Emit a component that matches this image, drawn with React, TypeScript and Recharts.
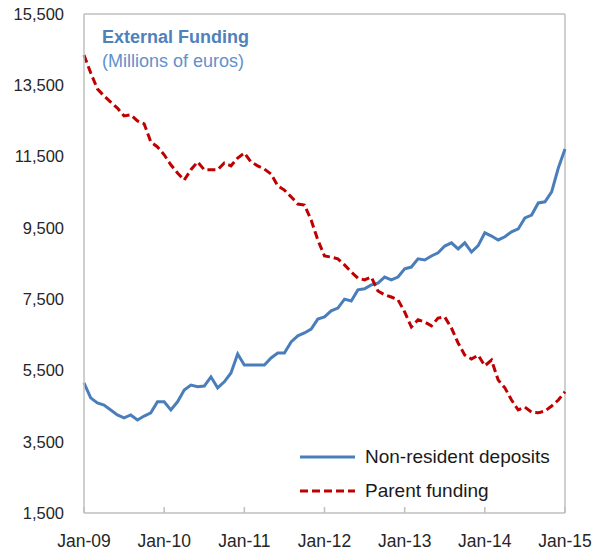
import React from 'react';
import { LineChart, Line, XAxis, YAxis, ReferenceLine, Legend } from 'recharts';

// monthly, Jan-09 .. Jan-15 (73 points), millions of euros
const yearLabels = ['Jan-09', 'Jan-10', 'Jan-11', 'Jan-12', 'Jan-13', 'Jan-14', 'Jan-15'];
const yTicks = [1500, 3500, 5500, 7500, 9500, 11500, 13500, 15500];

const nonResidentDeposits = [
  5150, 4730, 4590, 4530, 4390, 4250, 4170, 4250, 4110, 4220, 4310, 4620,
  4620, 4390, 4620, 4950, 5090, 5040, 5060, 5320, 5010, 5180, 5430, 5960,
  5650, 5650, 5650, 5650, 5850, 5990, 5990, 6300, 6470, 6550, 6660, 6940,
  7000, 7170, 7250, 7500, 7450, 7760, 7790, 7900, 7950, 8120, 8040, 8120,
  8350, 8400, 8630, 8600, 8710, 8800, 8990, 9080, 8910, 9080, 8820, 9000,
  9360, 9270, 9160, 9250, 9390, 9470, 9780, 9860, 10200, 10230, 10510, 11180,
  11710,
];

const parentFunding = [
  14350, 13850, 13400, 13200, 13030, 12860, 12640, 12670, 12500, 12420, 11910, 11770,
  11550, 11270, 11040, 10840, 11130, 11350, 11130, 11130, 11130, 11320, 11240, 11460,
  11600, 11350, 11240, 11150, 11010, 10680, 10560, 10370, 10170, 10140, 9720, 9160,
  8710, 8680, 8630, 8460, 8260, 8090, 8040, 8120, 7730, 7620, 7560, 7480,
  7140, 6720, 6920, 6860, 6750, 6970, 7000, 6690, 6270, 5930, 5820, 5930,
  5630, 5790, 5230, 5010, 4670, 4390, 4470, 4330, 4310, 4360, 4500, 4670,
  4900,
];

const data = nonResidentDeposits.map((v, i) => ({
  month: i,
  deposits: v,
  parent: parentFunding[i],
}));
const xTicks = yearLabels.map((_, i) => i * 12);

const FONT = '"Liberation Sans", Arial, sans-serif';
const AXIS = '#bfbfbf';
const BLUE = '#4a7ebb';
const RED = '#c00000';

const dashes: Record<string, string | undefined> = { deposits: undefined, parent: '8 4' };

const LegendBox = ({ payload }: any) => (
  <svg width={280} height={70} style={{ display: 'block' }}>
    {(payload || []).map((entry: any, i: number) => (
      <g key={entry.value}>
        <line
          x1={5}
          x2={60}
          y1={17 + i * 34}
          y2={17 + i * 34}
          stroke={entry.color}
          strokeWidth={3}
          strokeDasharray={dashes[entry.dataKey]}
        />
        <text x={70} y={23 + i * 34} fontSize={19} fill="#1a1a1a" fontFamily={FONT}>
          {entry.value}
        </text>
      </g>
    ))}
  </svg>
);

export default function App() {
  return (
    <div style={{ position: 'absolute', left: 0, top: 0, width: 595, height: 554, background: '#fff' }}>
      <LineChart
        width={595}
        height={554}
        data={data}
        margin={{ top: 14, right: 30, bottom: 0, left: 0 }}
        style={{ fontFamily: FONT }}
      >
        <XAxis
          dataKey="month"
          type="number"
          domain={[0, 72]}
          ticks={xTicks}
          interval={0}
          tickFormatter={(v: number) => yearLabels[v / 12]}
          height={41}
          tickSize={-6}
          tickMargin={28}
          axisLine={{ stroke: AXIS, strokeWidth: 1.5 }}
          tickLine={{ stroke: AXIS, strokeWidth: 1.5 }}
          tick={{ fill: '#262626', fontSize: 17.5 }}
        />
        <YAxis
          domain={[1500, 15500]}
          ticks={yTicks}
          interval={0}
          width={84}
          tickSize={0}
          tickMargin={20}
          tickLine={false}
          axisLine={{ stroke: AXIS, strokeWidth: 1.5 }}
          tickFormatter={(v: number) => v.toLocaleString('en-US')}
          tick={{ fill: '#262626', fontSize: 16.5 }}
        />
        <ReferenceLine y={15500} stroke={AXIS} strokeWidth={1.5} />
        <ReferenceLine x={72} stroke={AXIS} strokeWidth={1.5} />
        <Line
          type="linear"
          dataKey="deposits"
          name="Non-resident deposits"
          stroke={BLUE}
          strokeWidth={3}
          dot={false}
          isAnimationActive={false}
        />
        <Line
          type="linear"
          dataKey="parent"
          name="Parent funding"
          stroke={RED}
          strokeWidth={3}
          strokeDasharray="8 4"
          dot={false}
          isAnimationActive={false}
        />
        <Legend
          layout="vertical"
          align="center"
          verticalAlign="middle"
          content={LegendBox}
          wrapperStyle={{ left: 295, top: 440, width: 280, height: 70 }}
        />
      </LineChart>
      <svg
        width={595}
        height={554}
        style={{ position: 'absolute', left: 0, top: 0, pointerEvents: 'none' }}
      >
        <text x={102} y={43} fontSize={18} fontWeight="bold" fill="#4f81bd" fontFamily={FONT}>
          External Funding
        </text>
        <text x={102} y={67} fontSize={18} fill="#5f91cc" fontFamily={FONT}>
          (Millions of euros)
        </text>
      </svg>
    </div>
  );
}
